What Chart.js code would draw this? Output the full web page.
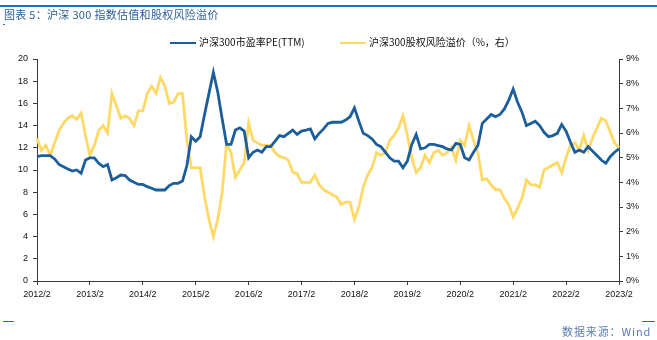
<!DOCTYPE html>
<html>
<head>
<meta charset="utf-8">
<script src="https://cdn.jsdelivr.net/npm/chart.js@4"></script>
<style>
  body { margin: 0; background: #fff; }
  #wrap { position: relative; width: 657px; height: 340px; font-family: "Liberation Sans", Arial, sans-serif; }
  #topline { position: absolute; left: 0; top: 5px; width: 657px; height: 2px; background: #1f6fc0; z-index: 2; }
  #title { position: absolute; left: 4px; top: 6px; font: 11px "Noto Sans CJK SC", sans-serif; color: #2b5c9a; letter-spacing: 0.3px; white-space: nowrap; }
  #mark1 { position: absolute; left: 3px; top: 24px; width: 2px; height: 1px; background: #1f6fc0; }
  .leg { position: absolute; top: 34px; font: 10px "Noto Sans CJK SC", sans-serif; color: #111; white-space: nowrap; }
  .leg i { display: inline-block; width: 26px; height: 2px; vertical-align: middle; margin-right: 3px; }
  #foot { position: absolute; left: 562px; top: 323px; font: 11px "Noto Sans CJK SC", sans-serif; color: #5b7fae; letter-spacing: 0.9px; white-space: nowrap; }
  #dash1 { position: absolute; left: 3px; top: 321px; width: 11px; height: 1px; background: #1f6fc0; }
  #dash2 { position: absolute; left: 642px; top: 321px; width: 13px; height: 1px; background: #1f6fc0; }
  canvas { position: absolute; left: 0; top: 0; }
</style>
</head>
<body>
<div id="wrap">
  <canvas id="chart" width="657" height="340"></canvas>
  <div id="topline"></div>
  <div id="title">图表 5：沪深 300 指数估值和股权风险溢价</div>
  <div id="mark1"></div>
  <div class="leg" style="left:170px"><i style="background:#1b5e9b"></i>沪深300市盈率PE(TTM)</div>
  <div class="leg" style="left:340px"><i style="background:#ffd966"></i>沪深300股权风险溢价（%，右）</div>
  <div id="dash1"></div>
  <div id="dash2"></div>
  <div id="foot">数据来源：Wind</div>
</div>
<script>
"use strict";

// Årstal som visas på x-axeln
const yearTicks = ['2012/2', '2013/2', '2014/2', '2015/2', '2016/2', '2017/2',
    '2018/2', '2019/2', '2020/2', '2021/2', '2022/2', '2023/2'];

// Månadsvärden för PE (TTM), från 2012/2 till 2023/2
const peTTM = [
    11.2, 11.3, 11.3, 11.3, 11.0, 10.5, 10.3, 10.1, 9.9, 10.0, 9.7, 10.9,
    11.1, 11.1, 10.6, 10.3, 10.5, 9.1, 9.3, 9.55, 9.5, 9.1, 8.9, 8.7,
    8.7, 8.5, 8.35, 8.2, 8.2, 8.2, 8.6, 8.8, 8.8, 9.0, 10.4, 13.0,
    12.6, 13.0, 15.0, 16.9, 18.8, 17.0, 14.6, 12.3, 12.3, 13.6, 13.8, 13.5,
    11.1, 11.6, 11.8, 11.6, 12.1, 12.1, 12.6, 13.1, 13.0, 13.3, 13.6, 13.2,
    13.5, 13.6, 13.7, 12.8, 13.3, 13.7, 14.2, 14.3, 14.3, 14.3, 14.5, 14.8,
    15.6, 14.4, 13.3, 13.1, 12.8, 12.3, 12.1, 11.6, 11.1, 10.8, 10.8, 10.2,
    10.8, 12.3, 13.2, 11.9, 12.0, 12.3, 12.3, 12.2, 12.1, 11.9, 11.8, 12.4,
    12.3, 11.1, 10.9, 11.6, 12.2, 14.2, 14.6, 15.0, 14.8, 15.0, 15.5, 16.3,
    17.3, 16.1, 15.2, 14.0, 14.2, 14.4, 14.0, 13.4, 13.0, 13.1, 13.3, 14.1,
    13.5, 12.5, 11.6, 11.8, 11.6, 12.1, 11.7, 11.3, 10.9, 10.6, 11.2, 11.6,
    11.9
];

// Månadsvärden för riskpremien i procent (höger axel)
const riskPremium = [
    5.78, 5.3, 5.5, 5.1, 5.6, 6.1, 6.4, 6.6, 6.7, 6.55, 6.8, 5.9,
    5.1, 5.5, 6.1, 6.3, 6.0, 7.6, 7.1, 6.6, 6.7, 6.6, 6.3, 6.9,
    6.9, 7.6, 7.9, 7.6, 8.25, 7.9, 7.2, 7.25, 7.6, 7.6, 5.7, 4.6,
    4.6, 4.6, 3.4, 2.5, 1.8, 2.5, 3.6, 5.6, 5.2, 4.2, 4.5, 4.8,
    6.4, 5.7, 5.6, 5.5, 5.5, 5.5, 5.2, 5.05, 5.0, 4.9, 4.4, 4.35,
    4.0, 4.0, 4.0, 4.3, 3.9, 3.7, 3.6, 3.5, 3.4, 3.1, 3.2, 3.2,
    2.5, 3.0, 3.8, 4.3, 4.6, 5.2, 5.1, 5.2, 5.7, 5.9, 6.2, 6.7,
    5.9, 5.0, 4.4, 4.6, 5.1, 4.8, 5.2, 5.3, 5.1, 5.2, 5.4, 4.9,
    5.7, 5.5, 6.3, 5.7, 5.2, 4.1, 4.15, 3.9, 3.7, 3.7, 3.35, 3.1,
    2.6, 2.95, 3.35, 4.1, 3.9, 3.9, 3.8, 4.5, 4.6, 4.7, 4.8, 4.4,
    5.0, 5.5, 5.6, 5.3, 5.9, 5.3, 5.8, 6.2, 6.6, 6.5, 6.05, 5.6,
    5.4
];

// Månadsetiketter byggs utifrån årstalen
const months = [];
for (let i = 0; i < peTTM.length; i++) {
    const year = 2012 + Math.floor((i + 1) / 12);
    const month = ((i + 1) % 12) + 1;
    months.push(year + '/' + month);
}

const axisColor = '#3a3a3a';
const tickFont = { family: "'Liberation Sans', Arial", size: 9 };

new Chart(document.getElementById('chart'), {
    type: 'line',
    data: {
        labels: months,
        datasets: [{
            label: '沪深300市盈率PE(TTM)',
            data: peTTM,
            yAxisID: 'y',
            borderColor: '#1b5e9b',
            borderWidth: 2.8,
            pointRadius: 0
        }, {
            label: '沪深300股权风险溢价（%，右）',
            data: riskPremium,
            yAxisID: 'y2',
            borderColor: '#ffd966',
            borderWidth: 2.8,
            pointRadius: 0
        }]
    },
    options: {
        responsive: false,
        animation: false,
        layout: { padding: { top: 59, left: 0, right: 0, bottom: 34 } },
        plugins: { legend: { display: false }, tooltip: { enabled: false } },
        scales: {
            x: {
                afterFit: s => { s.height = 25; },
                border: { color: axisColor },
                grid: {
                    drawOnChartArea: false,
                    tickLength: 4,
                    tickColor: ctx => (ctx.index % 12 === 0 ? axisColor : 'transparent')
                },
                ticks: {
                    autoSkip: false,
                    maxRotation: 0,
                    minRotation: 0,
                    padding: 4,
                    color: '#111',
                    font: tickFont,
                    callback: (v, i) => (i % 12 === 0 ? yearTicks[i / 12] : '')
                }
            },
            y: {
                position: 'left',
                min: 0,
                max: 20,
                afterFit: s => { s.width = 37; },
                border: { color: axisColor },
                grid: { drawOnChartArea: false, tickLength: 4, tickColor: axisColor },
                ticks: { stepSize: 2, padding: 5, color: '#111', font: tickFont }
            },
            y2: {
                position: 'right',
                min: 0,
                max: 9,
                afterFit: s => { s.width = 38; },
                border: { color: axisColor },
                grid: { drawOnChartArea: false, tickLength: 4, tickColor: axisColor },
                ticks: { stepSize: 1, padding: 3, color: '#111', font: tickFont, callback: v => v + '%' }
            }
        }
    }
});
</script>
</body>
</html>
